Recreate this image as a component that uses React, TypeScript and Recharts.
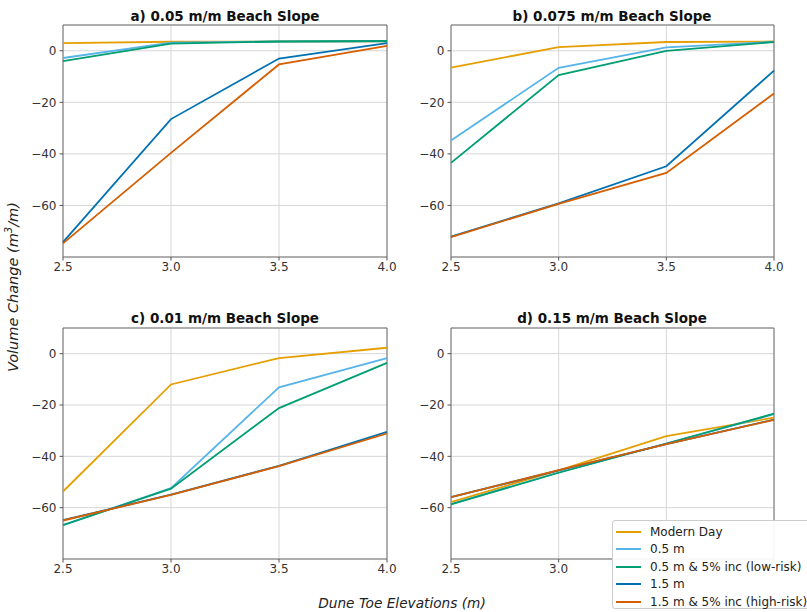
import React from "react";
import { LineChart, Line, XAxis, YAxis, CartesianGrid, ReferenceArea } from "recharts";

const elevations = [2.5, 3.0, 3.5, 4.0];
const xTicks = [2.5, 3.0, 3.5, 4.0];
const yTicks = [0, -20, -40, -60];
const yDomain: [number, number] = [-80, 10];

const seriesNames = ["Modern Day", "0.5 m", "0.5 m & 5% inc (low-risk)", "1.5 m", "1.5 m & 5% inc (high-risk)"];
const seriesColors = ["#E69F00", "#56B4E9", "#009E73", "#0072B2", "#D55E00"];

// Panel a) 0.05 m/m
const aModern = [3.0, 3.5, 3.6, 3.7];
const aHalf = [-2.8, 3.2, 3.6, 3.7];
const aHalfInc = [-4.0, 2.8, 3.6, 3.8];
const aOneHalf = [-74.2, -26.5, -3.0, 3.0];
const aOneHalfInc = [-74.7, -39.6, -5.3, 1.9];

// Panel b) 0.075 m/m
const bModern = [-6.5, 1.4, 3.4, 3.6];
const bHalf = [-34.8, -6.6, 1.3, 3.5];
const bHalfInc = [-43.5, -9.4, 0.0, 3.4];
const bOneHalf = [-72.1, -59.2, -44.8, -7.7];
const bOneHalfInc = [-72.3, -59.4, -47.4, -16.6];

// Panel c) 0.01 m/m
const cModern = [-53.7, -12.0, -1.7, 2.3];
const cHalf = [-66.8, -52.4, -13.1, -1.7];
const cHalfInc = [-66.8, -52.6, -21.2, -3.6];
const cOneHalf = [-64.9, -54.9, -43.7, -30.5];
const cOneHalfInc = [-65.0, -55.0, -43.8, -31.1];

// Panel d) 0.15 m/m
const dModern = [-57.8, -45.5, -32.1, -24.9];
const dHalf = [-58.6, -46.3, -35.0, -23.6];
const dHalfInc = [-58.7, -46.4, -35.0, -23.4];
const dOneHalf = [-55.9, -45.5, -35.2, -25.7];
const dOneHalfInc = [-55.9, -45.4, -35.2, -25.8];

const titles = [
  "a) 0.05 m/m Beach Slope",
  "b) 0.075 m/m Beach Slope",
  "c) 0.01 m/m Beach Slope",
  "d) 0.15 m/m Beach Slope",
];

const panelSeries = [
  [aModern, aHalf, aHalfInc, aOneHalf, aOneHalfInc],
  [bModern, bHalf, bHalfInc, bOneHalf, bOneHalfInc],
  [cModern, cHalf, cHalfInc, cOneHalf, cOneHalfInc],
  [dModern, dHalf, dHalfInc, dOneHalf, dOneHalfInc],
];

// x tick labels hidden behind the legend in panel d
const hiddenXLabels = [[], [], [], [3.5, 4.0]];

const FONT = "'DejaVu Sans', sans-serif";

type Layout = {
  left: number;
  top: number;
  width: number;
  height: number;
  margin: { top: number; right: number; bottom: number; left: number };
  titleX: number;
  titleY: number;
};

const layouts: Layout[] = [
  { left: 0, top: 0, width: 400, height: 300, margin: { top: 25, right: 13, bottom: 18, left: 13 }, titleX: 225, titleY: 16 },
  { left: 400, top: 0, width: 407, height: 300, margin: { top: 25, right: 33, bottom: 18, left: 1 }, titleX: 612, titleY: 16 },
  { left: 0, top: 300, width: 400, height: 312, margin: { top: 28, right: 13, bottom: 28, left: 13 }, titleX: 225, titleY: 318 },
  { left: 400, top: 300, width: 407, height: 312, margin: { top: 28, right: 33, bottom: 28, left: 1 }, titleX: 612, titleY: 318 },
];

function buildRows(series: number[][]) {
  return elevations.map((x, i) => {
    const row: Record<string, number> = { x };
    series.forEach((s, k) => {
      row["s" + k] = s[i];
    });
    return row;
  });
}

const fmtY = (v: number) => String(v).replace("-", "\u2212");

function Panel({ idx }: { idx: number }) {
  const L = layouts[idx];
  const rows = buildRows(panelSeries[idx]);
  const hidden = hiddenXLabels[idx] as number[];
  const fmtX = (v: number) => (hidden.includes(v) ? "" : v.toFixed(1));
  const tickStyle = { fill: "#333", fontSize: 12, fontFamily: FONT };
  return (
    <div style={{ position: "absolute", left: L.left, top: L.top, width: L.width, height: L.height }}>
      <LineChart width={L.width} height={L.height} data={rows} margin={L.margin}>
        <CartesianGrid stroke="#d6d6d6" strokeWidth={1} />
        <XAxis
          dataKey="x"
          type="number"
          domain={[2.5, 4.0]}
          ticks={xTicks}
          tickFormatter={fmtX}
          tick={tickStyle}
          tickLine={{ stroke: "#555" }}
          tickSize={3.5}
          tickMargin={2}
          axisLine={false}
          height={25}
          interval={0}
        />
        <YAxis
          type="number"
          domain={yDomain}
          ticks={yTicks}
          tickFormatter={fmtY}
          tick={tickStyle}
          tickLine={{ stroke: "#555" }}
          tickSize={3.5}
          tickMargin={3}
          axisLine={false}
          width={50}
          interval={0}
          allowDataOverflow
        />
        <ReferenceArea
          x1={2.5}
          x2={4.0}
          y1={-80}
          y2={10}
          fill="none"
          fillOpacity={0}
          stroke="#707070"
          strokeWidth={1}
          ifOverflow="visible"
        />
        {seriesNames.map((name, k) => (
          <Line
            key={name}
            dataKey={"s" + k}
            name={name}
            stroke={seriesColors[k]}
            strokeWidth={1.8}
            dot={false}
            activeDot={false}
            type="linear"
            isAnimationActive={false}
          />
        ))}
      </LineChart>
      <div
        style={{
          position: "absolute",
          left: L.titleX - L.left,
          top: L.titleY - L.top,
          transform: "translate(-50%, -50%)",
          fontFamily: FONT,
          fontWeight: "bold",
          fontSize: 13.5,
          color: "#111",
          whiteSpace: "nowrap",
        }}
      >
        {titles[idx]}
      </div>
    </div>
  );
}

function LegendBox() {
  return (
    <div
      style={{
        position: "absolute",
        left: 612,
        top: 520,
        width: 200,
        height: 89,
        background: "rgba(255,255,255,0.92)",
        border: "1px solid #cccccc",
        borderRadius: 3,
        fontFamily: FONT,
        fontSize: 12,
        color: "#222",
        boxSizing: "border-box",
      }}
    >
      {seriesNames.map((name, k) => (
        <div
          key={name}
          style={{ position: "absolute", left: 0, top: 2 + k * 17.5, height: 17, display: "flex", alignItems: "center", whiteSpace: "nowrap" }}
        >
          <div style={{ marginLeft: 3, width: 25, height: 2, background: seriesColors[k] }} />
          <span style={{ marginLeft: 9 }}>{name}</span>
        </div>
      ))}
    </div>
  );
}

export default function App() {
  return (
    <div style={{ position: "absolute", left: 0, top: 0, width: 807, height: 612, background: "#fff", overflow: "hidden" }}>
      {[0, 1, 2, 3].map((i) => (
        <Panel key={i} idx={i} />
      ))}
      <div
        style={{
          position: "absolute",
          left: 12,
          top: 287,
          transform: "translate(-50%, -50%) rotate(-90deg)",
          fontFamily: FONT,
          fontStyle: "italic",
          fontSize: 14.5,
          color: "#222",
          whiteSpace: "nowrap",
        }}
      >
        Volume Change (m<sup style={{ fontSize: 10 }}>3</sup>/m)
      </div>
      <div
        style={{
          position: "absolute",
          left: 402,
          top: 603,
          transform: "translate(-50%, -50%)",
          fontFamily: FONT,
          fontStyle: "italic",
          fontSize: 13.7,
          color: "#222",
          whiteSpace: "nowrap",
        }}
      >
        Dune Toe Elevations (m)
      </div>
      <LegendBox />
    </div>
  );
}
